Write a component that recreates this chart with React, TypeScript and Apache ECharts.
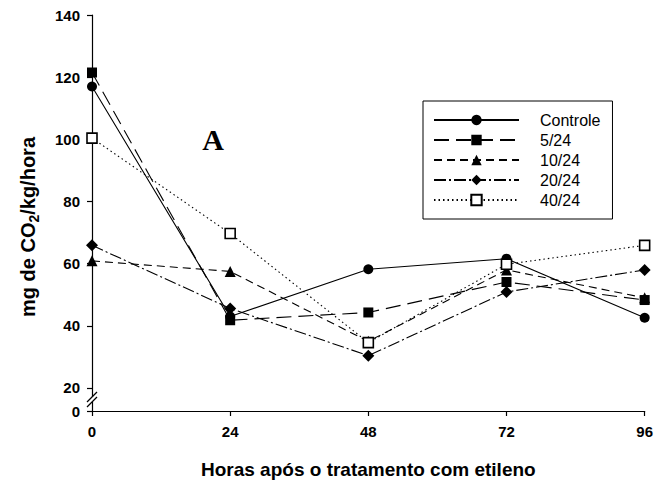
import React, { useEffect, useRef } from "react";
import * as echarts from "echarts";

const hours = [0, 24, 48, 72, 96];
const seriesNames = ["Controle", "5/24", "10/24", "20/24", "40/24"];
const controle = [117.0, 43.0, 58.2, 61.6, 42.6];
const t5 = [121.5, 41.8, 44.3, 54.1, 48.3];
const t10 = [60.9, 57.5, 35.0, 58.0, 49.0];
const t20 = [65.9, 45.6, 30.4, 50.9, 58.0];
const t40 = [100.4, 69.7, 34.6, 59.8, 65.9];
const yBottom = 12.6; // axis is broken between 0 and 20
const yTickValues = [12.6, 20, 40, 60, 80, 100, 120, 140];
const yTickLabels = ["0", "20", "40", "60", "80", "100", "120", "140"];
const xTitle = "Horas após o tratamento com etileno";
const panelLabel = "A";

const SANS = "'Liberation Sans', Arial, sans-serif";

export default function App() {
  const ref = useRef<HTMLDivElement>(null);
  useEffect(() => {
    if (!ref.current) return;
    const chart = echarts.init(ref.current, undefined, { renderer: "svg" });
    const values = [controle, t5, t10, t20, t40];
    const styles = [
      { symbol: "circle", size: 10, fill: "#000", dash: "solid" as any },
      { symbol: "rect", size: 10, fill: "#000", dash: [15, 7] },
      { symbol: "triangle", size: 11, fill: "#000", dash: [8, 5] },
      { symbol: "diamond", size: 12, fill: "#000", dash: [12, 3, 2, 3] },
      { symbol: "rect", size: 10, fill: "#fff", dash: [1.5, 3] },
    ];
    const series = seriesNames.map((name, i) => ({
      name,
      type: "line",
      data: hours.map((h, j) => [h, values[i][j]]),
      symbol: styles[i].symbol,
      symbolSize: styles[i].size,
      itemStyle: {
        color: styles[i].fill,
        borderColor: "#000",
        borderWidth: styles[i].fill === "#fff" ? 1.6 : 0,
      },
      lineStyle: { color: "#000", width: 1.1, type: styles[i].dash },
      z: 2 + i,
    }));
    chart.setOption({
      animation: false,
      grid: { left: 92, right: 10, top: 15, bottom: 72 },
      xAxis: {
        type: "value",
        min: 0,
        max: 96,
        interval: 24,
        name: xTitle,
        nameLocation: "middle",
        nameGap: 49,
        nameTextStyle: { fontFamily: SANS, fontWeight: "bold", fontSize: 19, color: "#000" },
        axisLine: { lineStyle: { color: "#000", width: 1.2 } },
        axisTick: { show: true, length: 5, lineStyle: { color: "#000", width: 1.2 } },
        axisLabel: { margin: 13, fontFamily: SANS, fontWeight: "bold", fontSize: 15, color: "#000" },
        splitLine: { show: false },
      },
      yAxis: {
        type: "value",
        min: yBottom,
        max: 140,
        axisLine: { show: true, onZero: false, lineStyle: { color: "#000", width: 1.2 } },
        axisTick: {
          show: true,
          length: 5,
          customValues: yTickValues,
          lineStyle: { color: "#000", width: 1.2 },
        },
        axisLabel: {
          margin: 12,
          customValues: yTickValues,
          formatter: (v: number) => {
            const k = yTickValues.findIndex((t) => Math.abs(t - v) < 0.01);
            return k >= 0 ? yTickLabels[k] : "";
          },
          fontFamily: SANS,
          fontWeight: "bold",
          fontSize: 15,
          color: "#000",
        },
        splitLine: { show: false },
      },
      legend: {
        orient: "vertical",
        left: 423,
        top: 101,
        padding: [11, 12, 11, 10],
        borderColor: "#000",
        borderWidth: 1,
        itemWidth: 85,
        itemHeight: 13,
        itemGap: 4,
        textStyle: { fontFamily: SANS, fontSize: 16, color: "#000", padding: [0, 0, 0, 16] },
        data: seriesNames,
      },
      series,
    });

    const ax = chart.convertToPixel({ gridIndex: 0 }, [0, 20]) as number[];
    const a0 = chart.convertToPixel({ gridIndex: 0 }, [0, yBottom]) as number[];
    const x0 = ax[0];
    const yMid = (ax[1] + a0[1]) / 2;
    chart.setOption({
      graphic: [
        {
          type: "rect",
          shape: { x: x0 - 2, y: yMid - 2.5, width: 4, height: 5 },
          style: { fill: "#fff" },
          z: 100,
        },
        {
          type: "line",
          shape: { x1: x0 - 5, y1: yMid + 2.5, x2: x0 + 5, y2: yMid - 7.5 },
          style: { stroke: "#000", lineWidth: 1.2 },
          z: 101,
        },
        {
          type: "line",
          shape: { x1: x0 - 5, y1: yMid + 7.5, x2: x0 + 5, y2: yMid - 2.5 },
          style: { stroke: "#000", lineWidth: 1.2 },
          z: 101,
        },
        {
          type: "text",
          x: 28,
          y: 227,
          rotation: Math.PI / 2,
          style: {
            text: "{a|mg de CO}{s|2}{a|/kg/hora}",
            align: "center",
            verticalAlign: "middle",
            rich: {
              a: { fontFamily: SANS, fontWeight: "bold", fontSize: 20, lineHeight: 26, fill: "#000" },
              s: { fontFamily: SANS, fontWeight: "bold", fontSize: 14, lineHeight: 14, verticalAlign: "bottom", fill: "#000" },
            },
          },
          z: 100,
        },
        {
          type: "text",
          x: 213,
          y: 139,
          style: {
            text: panelLabel,
            fontFamily: "'Liberation Serif', 'Times New Roman', serif",
            fontWeight: "bold",
            fontSize: 30,
            fill: "#000",
            align: "center",
            verticalAlign: "middle",
          },
          z: 100,
        },
      ],
    });
    return () => chart.dispose();
  }, []);
  return (
    <div
      ref={ref}
      style={{ position: "fixed", left: 0, top: 0, width: 656, height: 484, background: "#fff" }}
    />
  );
}
